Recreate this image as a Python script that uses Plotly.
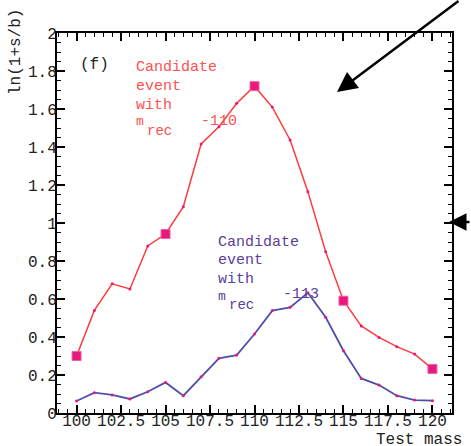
import plotly.graph_objects as go

mass = [100, 101, 102, 103, 104, 105, 106, 107, 108, 109, 110,
        111, 112, 113, 114, 115, 116, 117, 118, 119, 120]
red_vals = [0.30, 0.54, 0.68, 0.653, 0.879, 0.942, 1.086, 1.416, 1.507, 1.63, 1.72,
            1.61, 1.437, 1.165, 0.849, 0.591, 0.458, 0.398, 0.349, 0.31, 0.232]
blue_vals = [0.063, 0.107, 0.095, 0.074, 0.112, 0.161, 0.091, 0.191, 0.288, 0.305, 0.416,
             0.539, 0.556, 0.633, 0.504, 0.328, 0.182, 0.147, 0.091, 0.068, 0.065]
square_mass = [100, 105, 110, 115, 120]
square_vals = [red_vals[mass.index(m)] for m in square_mass]

FONT = "Liberation Mono, Courier New, monospace"
RED_LINE = "#ff3b3b"
RED_TEXT = "#ff5050"
BLUE_LINE = "#5050aa"
BLUE_TEXT = "#5a3f9a"
MAG = "#e8187c"

fig = go.Figure()
fig.add_trace(go.Scatter(x=mass, y=red_vals, mode="lines+markers",
                         line=dict(color=RED_LINE, width=1.5),
                         marker=dict(color=MAG, size=3), showlegend=False))
fig.add_trace(go.Scatter(x=mass, y=blue_vals, mode="lines+markers",
                         line=dict(color=BLUE_LINE, width=1.8),
                         marker=dict(color=MAG, size=3), showlegend=False))
fig.add_trace(go.Scatter(x=square_mass, y=square_vals, mode="markers",
                         marker=dict(color=MAG, symbol="square", size=9,
                                     line=dict(color="#f060a0", width=1)),
                         showlegend=False))

axis_common = dict(showline=True, linecolor="black", linewidth=2, mirror="allticks",
                   ticks="inside", tickcolor="black", tickwidth=1.5, ticklen=8,
                   showgrid=False, zeroline=False, automargin=False,
                   tickfont=dict(family=FONT, size=16, color="#222"))

fig.update_xaxes(range=[98.9, 121.1], tick0=100, dtick=2.5,
                 minor=dict(dtick=0.5, ticks="inside", ticklen=4, tickcolor="black",
                            tickwidth=1.2, showgrid=False),
                 ticklabelstandoff=-8, **axis_common)
fig.update_yaxes(range=[0, 2], tick0=0, dtick=0.2,
                 minor=dict(dtick=0.05, ticks="inside", ticklen=4, tickcolor="black",
                            tickwidth=1.2, showgrid=False),
                 ticklabelstandoff=-5, **axis_common)

annotations = []

def txt(x, y, s, color, size=15, anchor="left"):
    annotations.append(dict(xref="paper", yref="paper",
                            x=(x - 57) / 395, y=(413 - y) / 380,
                            text=s, showarrow=False, xanchor=anchor, yanchor="middle",
                            font=dict(family=FONT, size=size, color=color)))

txt(78, 65, "(f)", "#222", 16)
for i, s in enumerate(["Candidate", "event", "with"]):
    txt(134, 68 + i * 18.5, s, RED_TEXT)
txt(134, 122, "m", RED_TEXT, 13)
txt(145, 131, "rec", RED_TEXT, 14)
txt(199, 122, "-110", RED_TEXT)
for i, s in enumerate(["Candidate", "event", "with"]):
    txt(216, 242 + i * 18.5, s, BLUE_TEXT)
txt(216, 296, "m", BLUE_TEXT, 13)
txt(227, 305, "rec", BLUE_TEXT, 14)
txt(281, 295, "-113", BLUE_TEXT)

# axis titles
annotations.append(dict(xref="paper", yref="paper", x=(16 - 57) / 395, y=(413 - 52) / 380,
                        text="ln(1+s/b)", showarrow=False, textangle=-90,
                        xanchor="center", yanchor="middle",
                        font=dict(family=FONT, size=16, color="#222")))
annotations.append(dict(xref="paper", yref="paper", x=(374 - 57) / 395, y=(413 - 440) / 380,
                        text="Test mass", showarrow=False, xanchor="left", yanchor="middle",
                        font=dict(family=FONT, size=16, color="#222")))

# arrows
annotations.append(dict(xref="paper", yref="paper", x=(337 - 57) / 395, y=(413 - 92) / 380,
                        text="", showarrow=True, ax=123, ay=-102, axref="pixel", ayref="pixel",
                        arrowhead=2, arrowsize=1.6, arrowwidth=2.5, arrowcolor="black",
                        standoff=0))
annotations.append(dict(xref="paper", yref="paper", x=(449 - 57) / 395, y=(413 - 222) / 380,
                        text="", showarrow=True, ax=30, ay=0, axref="pixel", ayref="pixel",
                        arrowhead=2, arrowsize=1.4, arrowwidth=2.5, arrowcolor="black",
                        standoff=0))

fig.update_layout(width=471, height=446, margin=dict(l=57, r=19, t=33, b=33, autoexpand=False),
                  plot_bgcolor="white", paper_bgcolor="white",
                  annotations=annotations)

fig.write_html("out.html")
